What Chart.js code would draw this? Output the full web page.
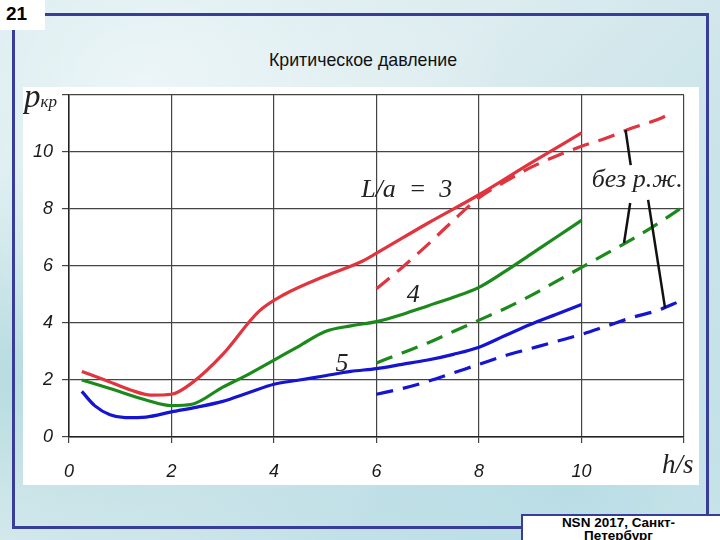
<!DOCTYPE html>
<html>
<head>
<meta charset="utf-8">
<script src="https://cdn.jsdelivr.net/npm/chart.js@4"></script>
<style>
  html, body { margin: 0; padding: 0; }
  body {
    width: 720px; height: 540px; overflow: hidden; position: relative;
    font-family: "Liberation Sans", Arial, sans-serif;
    background:
      radial-gradient(ellipse at 20% 15%, rgba(255,255,255,0.55), rgba(255,255,255,0) 45%),
      radial-gradient(ellipse at 80% 90%, rgba(170,215,225,0.6), rgba(170,215,225,0) 50%),
      radial-gradient(ellipse at 5% 70%, rgba(160,210,215,0.6), rgba(160,210,215,0) 40%),
      linear-gradient(135deg, #cfe7ec 0%, #dcecef 40%, #c9e3e9 70%, #d9eaee 100%);
  }
  .frame-line { position: absolute; background: #383e98; }
  #num {
    position: absolute; left: 0; top: 0; width: 45px; height: 30px; background: #fff;
    font-weight: bold; font-size: 19px; line-height: 28px; padding-left: 6px; box-sizing: border-box;
  }
  #title {
    position: absolute; left: 0; width: 726px; top: 50px; text-align: center; font-size: 17.8px; color: #111;
  }
  #footer {
    position: absolute; left: 521px; top: 514px; width: 205px; height: 40px; background: #fff;
    border: 2px solid #383e98; box-sizing: border-box; text-align: center;
    font-weight: bold; font-size: 13.5px; line-height: 13px; padding: 0 30px 0 20px;
  }
  #wrap { position: absolute; left: 23px; top: 87px; width: 676px; height: 398px; background: #fff; }
</style>
</head>
<body>
<div class="frame-line" style="left:45px;top:13px;width:664px;height:3px"></div>
<div class="frame-line" style="left:12px;top:30px;width:3px;height:499px"></div>
<div class="frame-line" style="left:706px;top:13px;width:3px;height:503px"></div>
<div class="frame-line" style="left:12px;top:526px;width:512px;height:3px"></div>
<div id="num">21</div>
<div id="title">Критическое давление</div>
<div id="wrap"><canvas id="c" width="676" height="398"></canvas></div>
<div id="footer">NSN 2017, Санкт-Петербург</div>

<script>
// ---- данные ----
const xTicks = [0, 2, 4, 6, 8, 10, 12];
const yTicks = [0, 2, 4, 6, 8, 10, 12];

// L/a = 3 (красные)
const red3X = [0.25, 0.7, 1.2, 1.6, 2.0, 2.4, 3.0, 3.7, 4.2, 5.0, 5.7, 6.0, 7.0, 8.0, 9.0, 10.0];
const red3Y = [2.3, 2.0, 1.65, 1.47, 1.5, 1.9, 2.9, 4.4, 5.0, 5.65, 6.15, 6.45, 7.5, 8.5, 9.6, 10.67];
const red3DashX = [6.0, 6.5, 7.0, 7.5, 8.0, 8.5, 9.0, 9.5, 10.0, 10.5, 11.0, 11.5, 11.8];
const red3DashY = [5.2, 5.95, 6.75, 7.6, 8.4, 8.95, 9.45, 9.85, 10.2, 10.5, 10.85, 11.15, 11.4];

// L/a = 4 (зелёные)
const green4X = [0.25, 0.8, 1.5, 2.0, 2.4, 3.0, 3.5, 4.0, 4.5, 5.0, 5.5, 6.0, 6.5, 7.0, 7.5, 8.0, 8.5, 9.0, 9.5, 10.0];
const green4Y = [2.0, 1.7, 1.3, 1.1, 1.15, 1.75, 2.2, 2.7, 3.2, 3.7, 3.9, 4.05, 4.3, 4.6, 4.9, 5.25, 5.8, 6.4, 7.0, 7.6];
const green4DashX = [6.0, 6.5, 7.0, 7.5, 8.0, 8.5, 9.0, 9.5, 10.0, 10.5, 11.0, 11.5, 12.0];
const green4DashY = [2.6, 2.95, 3.3, 3.7, 4.1, 4.5, 4.95, 5.45, 5.95, 6.45, 6.95, 7.5, 8.1];

// L/a = 5 (синие)
const blue5X = [0.25, 0.5, 0.8, 1.1, 1.5, 2.0, 2.5, 3.0, 3.5, 4.0, 4.5, 5.0, 5.5, 6.0, 6.5, 7.0, 7.5, 8.0, 8.5, 9.0, 9.5, 10.0];
const blue5Y = [1.6, 1.1, 0.78, 0.68, 0.7, 0.88, 1.05, 1.25, 1.55, 1.85, 2.0, 2.15, 2.3, 2.4, 2.55, 2.7, 2.9, 3.15, 3.55, 3.95, 4.3, 4.65];
const blue5DashX = [6.0, 6.5, 7.0, 7.5, 8.0, 8.5, 9.0, 9.5, 10.0, 10.5, 11.0, 11.5, 11.9];
const blue5DashY = [1.5, 1.7, 1.95, 2.25, 2.55, 2.85, 3.1, 3.35, 3.6, 3.9, 4.2, 4.45, 4.75];

// подписи на поле графика (координаты в единицах осей, левый край / базовая линия)
const curveLabels = [
  { text: "L/a  =  3", x: 5.7, y: 8.42 },
  { text: "4", x: 6.59, y: 4.74 },
  { text: "5", x: 5.2, y: 2.32 },
  { text: "без р.ж.", x: 10.2, y: 8.77 }
];
const leaderLines = [
  [10.86, 10.77, 10.96, 9.54],
  [10.95, 8.21, 10.83, 6.81],
  [11.3, 8.32, 11.63, 4.53]
];

const RED = "#e0353f", GREEN = "#1b8a1b", BLUE = "#1414d2";

function pts(xs, ys) { return xs.map((x, i) => ({ x: x, y: ys[i] })); }

function line(xs, ys, color, dashed) {
  return {
    data: pts(xs, ys),
    borderColor: color,
    borderWidth: 3.2,
    borderDash: dashed ? [17, 10] : [],
    pointRadius: 0,
    cubicInterpolationMode: "monotone",
    fill: false
  };
}

const labelsPlugin = {
  id: "labels",
  afterDatasetsDraw(chart) {
    const ctx = chart.ctx, sx = chart.scales.x, sy = chart.scales.y, a = chart.chartArea;
    ctx.save();
    ctx.fillStyle = "#222";
    ctx.textBaseline = "alphabetic";
    ctx.font = "italic 26px 'Liberation Serif', 'Times New Roman', serif";
    curveLabels.forEach(l => ctx.fillText(l.text, sx.getPixelForValue(l.x), sy.getPixelForValue(l.y)));

    ctx.strokeStyle = "#111";
    ctx.lineWidth = 2.5;
    leaderLines.forEach(s => {
      ctx.beginPath();
      ctx.moveTo(sx.getPixelForValue(s[0]), sy.getPixelForValue(s[1]));
      ctx.lineTo(sx.getPixelForValue(s[2]), sy.getPixelForValue(s[3]));
      ctx.stroke();
    });

    // подписи осей
    ctx.font = "italic 33px 'Liberation Serif', serif";
    const px = a.left - 45;
    ctx.fillText("p", px, a.top + 12);
    const pw = ctx.measureText("p").width;
    ctx.font = "italic 17px 'Liberation Serif', serif";
    ctx.fillText("кр", px + pw, a.top + 12);
    ctx.font = "italic 27px 'Liberation Serif', serif";
    ctx.fillText("h/s", a.right - 22, a.bottom + 36);
    ctx.restore();
  }
};

new Chart(document.getElementById("c"), {
  type: "line",
  data: {
    datasets: [
      line(red3X, red3Y, RED, false),
      line(red3DashX, red3DashY, RED, true),
      line(green4X, green4Y, GREEN, false),
      line(green4DashX, green4DashY, GREEN, true),
      line(blue5X, blue5Y, BLUE, false),
      line(blue5DashX, blue5DashY, BLUE, true)
    ]
  },
  options: {
    responsive: false,
    animation: false,
    layout: { padding: { top: 8, right: 15, left: 0, bottom: 0 } },
    plugins: { legend: { display: false }, tooltip: { enabled: false } },
    scales: {
      x: {
        type: "linear", min: 0, max: 12,
        afterBuildTicks(s) { s.ticks = xTicks.map(v => ({ value: v })); },
        afterFit(s) { s.height = 48; s.paddingLeft = 0; s.paddingRight = 0; },
        grid: { color: "#444", lineWidth: 1.2, tickLength: 6 },
        border: { color: "#222", width: 1.5 },
        ticks: {
          padding: 18, color: "#1a1a1a",
          font: { family: "'Liberation Sans', Arial", size: 18, style: "italic" },
          callback: v => (v === 12 ? "" : v)
        }
      },
      y: {
        min: 0, max: 12,
        afterBuildTicks(s) { s.ticks = yTicks.map(v => ({ value: v })); },
        afterFit(s) { s.width = 46; s.paddingTop = 0; s.paddingBottom = 0; },
        grid: { color: "#444", lineWidth: 1.2, tickLength: 7 },
        border: { color: "#222", width: 1.5 },
        ticks: {
          padding: 9, color: "#1a1a1a",
          font: { family: "'Liberation Sans', Arial", size: 18, style: "italic" },
          callback: v => (v === 12 ? "" : v)
        }
      }
    }
  },
  plugins: [labelsPlugin]
});
</script>
</body>
</html>
